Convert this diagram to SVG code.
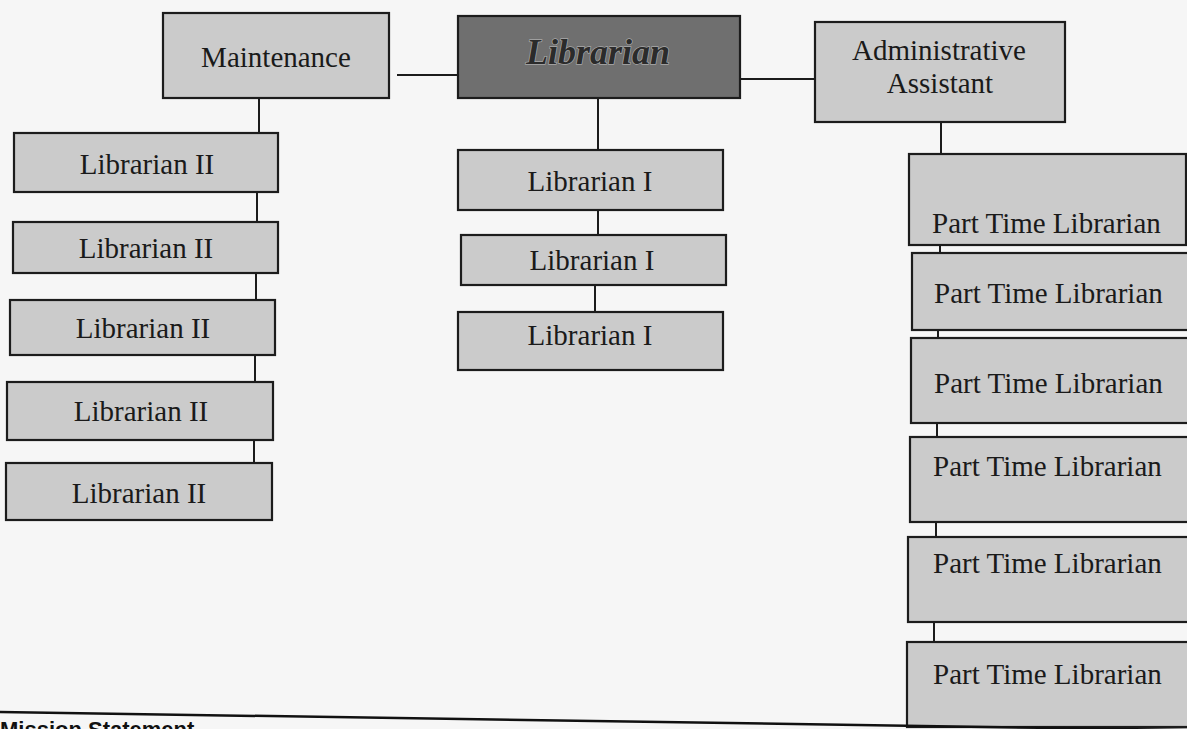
<svg xmlns="http://www.w3.org/2000/svg" width="1187" height="729" viewBox="0 0 1187 729">
<style>
.box{fill:#cbcbcb;stroke:#1c1c1c;stroke-width:2.2}
.dark{fill:#6f6f6f;stroke:#1c1c1c;stroke-width:2.2}
.t{font-family:"Liberation Serif","Times New Roman",serif;font-size:29px;fill:#1a1a1a}
.c{text-anchor:middle}
.ln{stroke:#1c1c1c;stroke-width:2;fill:none}
</style>
<rect width="1187" height="729" fill="#f6f6f6"/>
<g id="connectors">
<line class="ln" x1="397" y1="75" x2="458" y2="75"/>
<line class="ln" x1="740" y1="79" x2="815" y2="79"/>
<line class="ln" x1="259" y1="98" x2="259" y2="133"/>
<line class="ln" x1="257" y1="192" x2="257" y2="222"/>
<line class="ln" x1="256" y1="273" x2="256" y2="300"/>
<line class="ln" x1="255" y1="355" x2="255" y2="382"/>
<line class="ln" x1="254" y1="440" x2="254" y2="463"/>
<line class="ln" x1="598" y1="98" x2="598" y2="150"/>
<line class="ln" x1="598" y1="210" x2="598" y2="235"/>
<line class="ln" x1="595" y1="285" x2="595" y2="312"/>
<line class="ln" x1="941" y1="122" x2="941" y2="154"/>
<line class="ln" x1="940" y1="245" x2="940" y2="253"/>
<line class="ln" x1="938" y1="330" x2="938" y2="338"/>
<line class="ln" x1="937" y1="423" x2="937" y2="437"/>
<line class="ln" x1="936" y1="522" x2="936" y2="537"/>
<line class="ln" x1="934" y1="622" x2="934" y2="642"/>
</g>
<g id="maintenance"><rect class="box" x="163" y="13" width="226" height="85"/><text class="t c" x="276" y="67">Maintenance</text></g>
<g id="librarian"><rect class="dark" x="458" y="16" width="282" height="82"/><text x="598" y="64" text-anchor="middle" font-family="Liberation Serif, Times New Roman, serif" font-size="36" font-weight="bold" font-style="italic" fill="#2b2b2b" stroke="#a8a8a8" stroke-width="1.4" paint-order="stroke">Librarian</text></g>
<g id="admin-assistant"><rect class="box" x="815" y="22" width="250" height="100"/><text class="t c" x="939" y="60">Administrative</text><text class="t c" x="940" y="93">Assistant</text></g>
<g id="librarian2-1"><rect class="box" x="14" y="133" width="264" height="59"/><text class="t c" x="147" y="174">Librarian II</text></g>
<g id="librarian2-2"><rect class="box" x="13" y="222" width="265" height="51"/><text class="t c" x="146" y="258">Librarian II</text></g>
<g id="librarian2-3"><rect class="box" x="10" y="300" width="265" height="55"/><text class="t c" x="143" y="338">Librarian II</text></g>
<g id="librarian2-4"><rect class="box" x="7" y="382" width="266" height="58"/><text class="t c" x="141" y="421">Librarian II</text></g>
<g id="librarian2-5"><rect class="box" x="6" y="463" width="266" height="57"/><text class="t c" x="139" y="503">Librarian II</text></g>
<g id="librarian1-1"><rect class="box" x="458" y="150" width="265" height="60"/><text class="t c" x="590" y="191">Librarian I</text></g>
<g id="librarian1-2"><rect class="box" x="461" y="235" width="265" height="50"/><text class="t c" x="592" y="270">Librarian I</text></g>
<g id="librarian1-3"><rect class="box" x="458" y="312" width="265" height="58"/><text class="t c" x="590" y="345">Librarian I</text></g>
<g id="pt-1"><rect class="box" x="909" y="154" width="277" height="91"/><text class="t" x="932" y="233">Part Time Librarian</text></g>
<g id="pt-2"><rect class="box" x="912" y="253" width="280" height="77"/><text class="t" x="934" y="303">Part Time Librarian</text></g>
<g id="pt-3"><rect class="box" x="911" y="338" width="280" height="85"/><text class="t" x="934" y="393">Part Time Librarian</text></g>
<g id="pt-4"><rect class="box" x="910" y="437" width="280" height="85"/><text class="t" x="933" y="476">Part Time Librarian</text></g>
<g id="pt-5"><rect class="box" x="908" y="537" width="282" height="85"/><text class="t" x="933" y="573">Part Time Librarian</text></g>
<g id="pt-6"><rect class="box" x="907" y="642" width="283" height="85"/><text class="t" x="933" y="684">Part Time Librarian</text></g>
<g id="mission">
<line x1="0" y1="712" x2="1187" y2="730" stroke="#111" stroke-width="2.5"/>
<text x="0" y="737" font-family="Liberation Sans, Arial, sans-serif" font-size="22" font-weight="bold" fill="#111">Mission Statement</text>
</g>
</svg>
